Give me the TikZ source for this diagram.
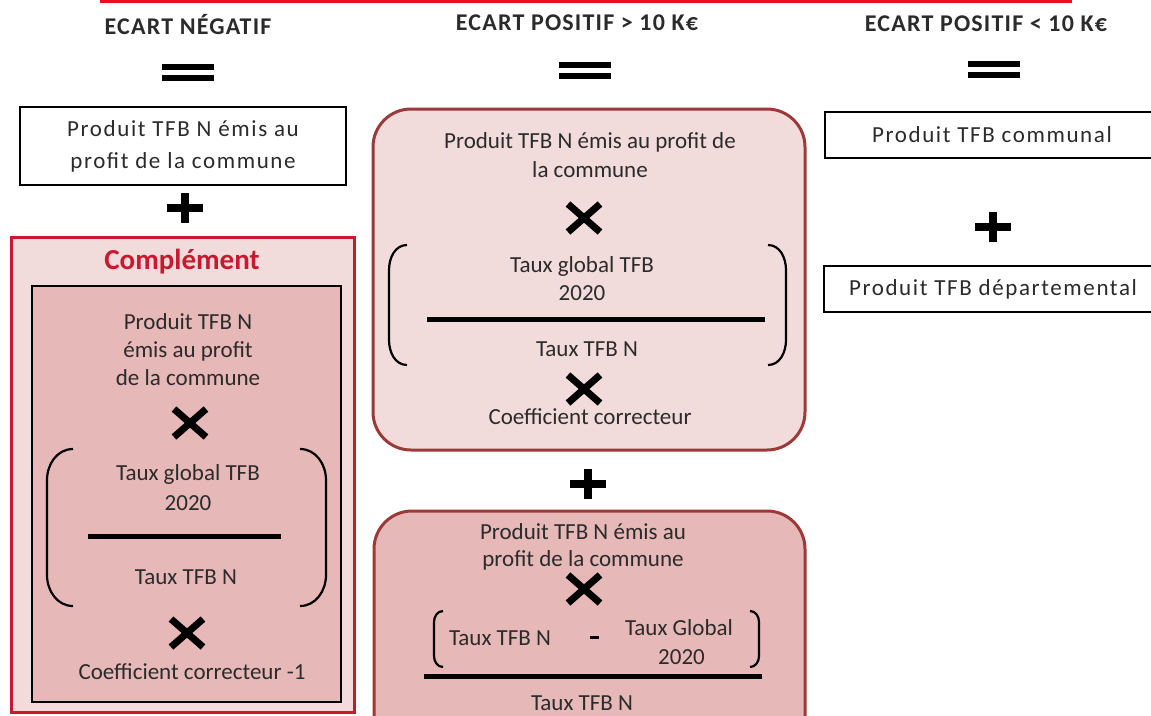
\documentclass[tikz,border=0pt]{standalone}
\usepackage{fontspec}
\setmainfont{Carlito}
\definecolor{pinkA}{HTML}{F2DCDB}
\definecolor{pinkB}{HTML}{E6B8B7}
\definecolor{boxred}{HTML}{9B3A38}
\definecolor{crimson}{HTML}{C8192E}
\definecolor{topred}{HTML}{E8101A}
\definecolor{txt}{HTML}{2B2B2B}
\tikzset{
  txtnode/.style={text=txt, inner sep=0pt, align=center, font=\fontsize{23}{28}\selectfont},
  widetxt/.style={text=txt, inner sep=0pt, align=center, font=\fontsize{23}{32}\selectfont\addfontfeatures{LetterSpace=7}},
  header/.style={text=txt, inner sep=0pt, font=\fontsize{24}{28}\selectfont\bfseries\addfontfeatures{LetterSpace=5}},
  whitebox/.style={draw=black, line width=2.2pt, fill=white},
  timesmark/.pic={\draw[line width=7pt, black] (-16,-14)--(16,14) (-16,14)--(16,-14);},
  plusmark/.pic={\draw[line width=8pt, black] (-18,0)--(18,0) (0,-15)--(0,15);},
  equalmark/.pic={\draw[line width=6pt, black] (-26,-5)--(26,-5) (-26,6)--(26,6);},
  paren/.style={line width=2.2pt, black},
  fracbar/.style={line width=5pt, black}
}
\begin{document}
\begin{tikzpicture}[x=1pt,y=-1pt]
\useasboundingbox (0,0) rectangle (1151,715);
% top red edge
\draw[topred, line width=3pt] (101,-5) -- (101,1.5) -- (1070,1.5) -- (1070,-5);

% headers
\node[header] (h1) at (188,25) {ECART NÉGATIF};
\node[header] (h2) at (577,23) {ECART POSITIF > 10 K€};
\node[header] (h3) at (986,24) {ECART POSITIF < 10 K€};
\pic at (188,72) {equalmark};
\pic at (585,70) {equalmark};
\pic at (994,69) {equalmark};

% ---------- left column ----------
\draw[whitebox] (20,107) rectangle (346,185);
\node[widetxt] (l1) at (183,146) {Produit TFB N émis au\\profit de la commune};
\pic at (185,208) {plusmark};
\draw[fill=pinkA, draw=crimson, line width=3pt] (11,237) rectangle (354,712);
\node[text=crimson, inner sep=0pt, font=\fontsize{29}{34}\selectfont\bfseries] (comp) at (182,262) {Complément};
\draw[fill=pinkB, draw=black, line width=2.4pt] (32,286) rectangle (341,702);
\node[txtnode] (l2) at (188,350) {Produit TFB N\\émis au profit\\de la commune};
\pic at (190,423) {timesmark};
\draw[paren] (73,449) to[out=180,in=90] (47,480) -- (47,575) to[out=-90,in=180] (73,606);
\draw[paren] (300,449) to[out=0,in=90] (326,480) -- (326,575) to[out=-90,in=0] (300,606);
\node[txtnode, font=\fontsize{23}{30}\selectfont] (l3) at (188,488) {Taux global TFB\\2020};
\draw[fracbar] (88,536) -- (281,536);
\node[txtnode] (l4) at (186,577) {Taux TFB N};
\pic at (187,633) {timesmark};
\node[txtnode] (l5) at (192,672) {Coefficient correcteur -1};

% ---------- middle column ----------
\draw[fill=pinkA, draw=boxred, line width=3pt, rounded corners=38pt] (373,109) rectangle (805,450);
\node[txtnode, font=\fontsize{23}{29}\selectfont] (m1) at (590,155) {Produit TFB N émis au profit de\\la commune};
\pic at (584,218) {timesmark};
\draw[paren] (407,245) to[out=180,in=90] (389,270) -- (389,340) to[out=-90,in=180] (407,365);
\draw[paren] (768,245) to[out=0,in=90] (786,270) -- (786,340) to[out=-90,in=0] (768,365);
\node[txtnode] (m2) at (582,279) {Taux global TFB\\2020};
\draw[fracbar] (427,319) -- (765,319);
\node[txtnode] (m3) at (587,349) {Taux TFB N};
\pic at (584,389) {timesmark};
\node[txtnode] (m4) at (590,417) {Coefficient correcteur};

\pic at (588,484) {plusmark};

\draw[fill=pinkB, draw=boxred, line width=3pt, rounded corners=38pt] (374,511) rectangle (805,760);
\node[txtnode, font=\fontsize{23}{27}\selectfont] (m5) at (583,547) {Produit TFB N émis au\\profit de la commune};
\pic at (584,589) {timesmark};
\draw[paren] (443,611) to[out=180,in=90] (434,622) -- (434,656) to[out=-90,in=180] (443,667);
\draw[paren] (750,611) to[out=0,in=90] (759,622) -- (759,656) to[out=-90,in=0] (750,667);
\node[txtnode] (m6) at (500,638) {Taux TFB N};
\draw[line width=3pt, black] (590,637) -- (599,637);
\node[txtnode, font=\fontsize{23}{29}\selectfont] (m7) at (679,642) {Taux Global\\\hspace*{5pt}2020};
\draw[fracbar] (424,676) -- (762,676);
\node[txtnode] (m8) at (582,703) {Taux TFB N};

% ---------- right column ----------
\draw[whitebox] (825,112) rectangle (1160,158);
\node[widetxt] (r1) at (992,135) {Produit TFB communal};
\pic at (993,227) {plusmark};
\draw[whitebox] (824,266) rectangle (1160,312);
\node[widetxt] (r2) at (993,289) {Produit TFB départemental};
\end{tikzpicture}
\end{document}
